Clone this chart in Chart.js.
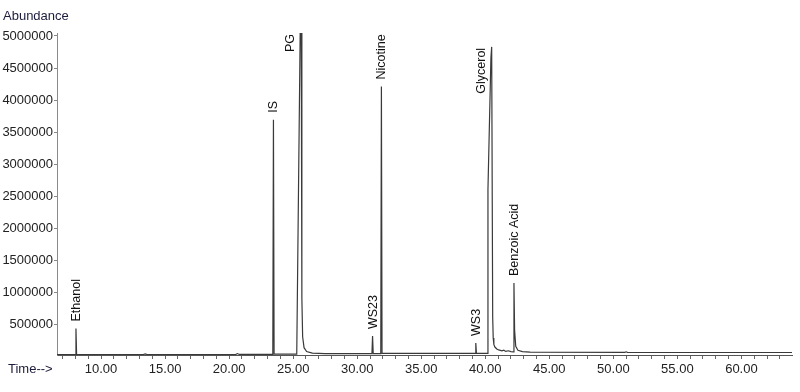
<!DOCTYPE html>
<html lang="en">
<head>
    <meta charset="UTF-8">
    <title>Chromatogram</title>
    <script src="https://cdn.jsdelivr.net/npm/chart.js"></script>
    <style>
        html, body { margin: 0; padding: 0; background: #fff; }
        #wrap { width: 800px; height: 392px; position: relative; }
    </style>
</head>
<body>
    <div id="wrap"><canvas id="tic"></canvas></div>

    <script>
        // retention time (min) and abundance of the trace
        const times = [
            6.56, 7.99, 8.04, 8.09, 13.3, 13.45, 13.6, 20.5, 20.65, 20.8,
            23.41, 23.46, 23.51, 25.28, 25.55, 25.63, 25.68, 25.74, 25.85, 26.05,
            26.5, 27.5, 31.15, 31.20, 31.25, 31.84, 31.89, 31.94, 39.21, 39.26,
            39.31, 40.16, 40.21, 40.44, 40.50, 40.58, 40.62, 40.67, 40.75,
            40.9, 41.05, 41.3, 41.45, 41.6, 41.8, 42.0, 42.19, 42.24, 42.29,
            42.38, 42.55, 42.9, 43.5, 50.9, 51.0, 51.1, 63.95
        ];
        const abundance = [
            22000, 22000, 430000, 22000, 22000, 32000, 22000, 22000, 38000, 24000,
            25000, 3690000, 28000, 30000, 5100000, 5100000, 900000, 300000, 130000, 70000,
            45000, 36000, 36000, 312000, 36000, 36000, 4210000, 40000, 40000, 203000,
            40000, 42000, 2600000, 4650000, 4830000, 600000, 280000, 180000, 140000,
            110000, 95000, 80000, 90000, 72000, 82000, 68000, 66000, 1140000, 400000,
            150000, 90000, 68000, 60000, 58000, 66000, 58000, 55000
        ];

        // peak annotations
        const peakNames = ['Ethanol', 'IS', 'PG', 'WS23', 'Nicotine', 'WS3', 'Glycerol', 'Benzoic Acid'];
        const peakTimes = [8.04, 23.46, 25.59, 31.20, 31.89, 39.26, 40.50, 42.24];
        const peakHeights = [430000, 3690000, 5100000, 312000, 4210000, 203000, 4830000, 1140000];
        const sideLabels = ['PG', 'Glycerol'];  // these sit beside the peak, not above

        const yTicks = [500000, 1000000, 1500000, 2000000, 2500000, 3000000, 3500000, 4000000, 4500000, 5000000];
        const xTickLabels = [10, 15, 20, 25, 30, 35, 40, 45, 50, 55, 60];

        const xMin = 6.56, xMax = 63.95;
        const yMin = 15625, yMax = 5046875;

        const points = times.map((t, i) => ({ x: t, y: abundance[i] }));

        const peakLabelPlugin = {
            id: 'peakLabels',
            afterDatasetsDraw(chart) {
                const { ctx, scales: { x, y }, chartArea } = chart;
                ctx.save();
                ctx.fillStyle = '#111';
                ctx.font = '12.5px "Liberation Sans", Arial, sans-serif';
                ctx.textBaseline = 'middle';
                peakNames.forEach((name, i) => {
                    const px = x.getPixelForValue(peakTimes[i]);
                    const py = Math.max(y.getPixelForValue(peakHeights[i]), chartArea.top);
                    ctx.save();
                    if (sideLabels.includes(name)) {
                        ctx.translate(px - 10, py + 1);
                        ctx.rotate(-Math.PI / 2);
                        ctx.textAlign = 'right';
                    } else {
                        ctx.translate(px + 0.5, py - 7);
                        ctx.rotate(-Math.PI / 2);
                        ctx.textAlign = 'left';
                    }
                    ctx.fillText(name, 0, 0);
                    ctx.restore();
                });

                // axis captions
                ctx.font = '13px "Liberation Sans", Arial, sans-serif';
                ctx.fillStyle = '#1c1c3c';
                ctx.textAlign = 'left';
                ctx.textBaseline = 'alphabetic';
                ctx.fillText('Abundance', 3, 20);
                ctx.fillText('Time-->', 8, 373);
                ctx.restore();
            }
        };

        const ctx = document.getElementById('tic').getContext('2d');
        const chart = new Chart(ctx, {
            type: 'line',
            data: {
                datasets: [{
                    data: points,
                    borderColor: '#3a3a3a',
                    borderWidth: 1.2,
                    pointRadius: 0,
                    tension: 0,
                    fill: false
                }]
            },
            options: {
                responsive: true,
                maintainAspectRatio: false,
                animation: false,
                parsing: false,
                layout: { padding: { top: 33, right: 8, left: 0, bottom: 0 } },
                plugins: {
                    legend: { display: false },
                    tooltip: { enabled: false }
                },
                scales: {
                    x: {
                        type: 'linear',
                        min: xMin,
                        max: xMax,
                        afterFit: s => { s.height = 37; },
                        afterBuildTicks: s => {
                            const ticks = [];
                            for (let v = 7; v <= 63; v++) ticks.push({ value: v });
                            s.ticks = ticks;
                        },
                        grid: {
                            drawOnChartArea: false,
                            drawTicks: true,
                            tickLength: 4,
                            color: '#666'
                        },
                        border: { color: '#555', width: 1 },
                        ticks: {
                            autoSkip: false,
                            maxRotation: 0,
                            padding: 3,
                            color: '#222',
                            font: { family: '"Liberation Sans", Arial, sans-serif', size: 13 },
                            callback: v => xTickLabels.includes(v) ? v.toFixed(2) : ''
                        }
                    },
                    y: {
                        min: yMin,
                        max: yMax,
                        afterFit: s => { s.width = 57; },
                        afterBuildTicks: s => { s.ticks = yTicks.map(v => ({ value: v })); },
                        grid: {
                            drawOnChartArea: false,
                            drawTicks: true,
                            tickLength: 3,
                            color: '#888'
                        },
                        border: { color: '#8a8a8a', width: 1, dash: [2, 1] },
                        ticks: {
                            padding: 1,
                            color: '#222',
                            font: { family: '"Liberation Sans", Arial, sans-serif', size: 13 },
                            callback: v => String(v)
                        }
                    }
                }
            },
            plugins: [peakLabelPlugin]
        });
    </script>
</body>
</html>
